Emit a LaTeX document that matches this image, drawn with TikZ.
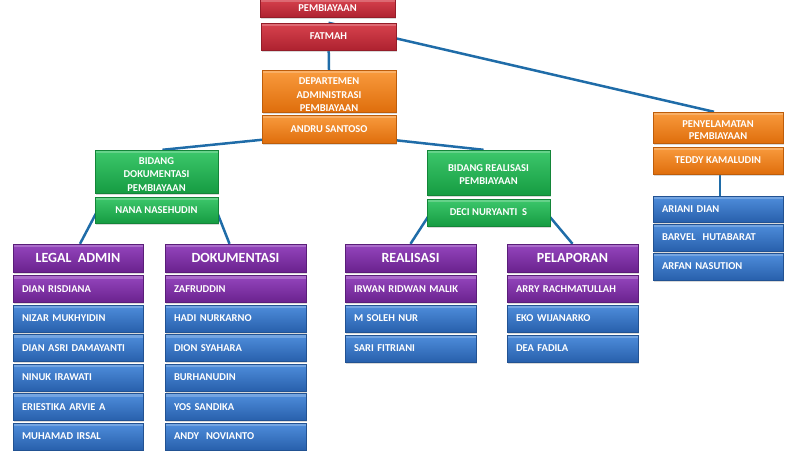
\documentclass[tikz,border=0pt]{standalone}
\usepackage{fontspec}
\setmainfont{Carlito}
\usetikzlibrary{calc,shadows,backgrounds}
\definecolor{redA}{HTML}{D8434E}\definecolor{redB}{HTML}{AE2230}
\definecolor{orA}{HTML}{F99B3E}\definecolor{orB}{HTML}{DF6E0C}
\definecolor{grA}{HTML}{3DC86C}\definecolor{grB}{HTML}{169C42}
\definecolor{puA}{HTML}{9546BE}\definecolor{puB}{HTML}{6A228E}
\definecolor{blA}{HTML}{4F8EDC}\definecolor{blB}{HTML}{2860AC}
\definecolor{link}{HTML}{1F6CA8}
\tikzset{
  box/.style={rectangle, inner sep=0pt, text=white,
    font=\bfseries\fontsize{10.5}{13.5}\selectfont, align=center,
    drop shadow={shadow xshift=1pt, shadow yshift=-1.5pt, opacity=0.3},
    path picture={\fill[white,opacity=0.22] (path picture bounding box.north west) rectangle ([yshift=-3pt]path picture bounding box.north east);}},
  redbox/.style={box, top color=redA, bottom color=redB, draw=redB!85!black},
  orbox/.style={box, top color=orA, bottom color=orB, draw=orB!85!black},
  grbox/.style={box, top color=grA, bottom color=grB, draw=grB!85!black},
  pubox/.style={box, top color=puA, bottom color=puB, draw=puB!85!black},
  blbox/.style={box, top color=blA, bottom color=blB, draw=blB!85!black},
  head/.style={font=\bfseries\fontsize{14}{16}\selectfont, minimum height=28pt},
  namebox/.style={text width=#1, inner xsep=9pt, align=left, minimum height=27pt},
  lowtext/.style={text height=#1, text depth=0pt},
  link/.style={draw=link, line width=2.5pt}
}
\begin{document}
\begin{tikzpicture}[x=1pt,y=-1pt]
\useasboundingbox (0,0) rectangle (800,450);
\clip (0,0) rectangle (800,450);
% top chain
\node[redbox, minimum width=135pt, minimum height=19pt] (top) at (327.5,8) {PEMBIAYAAN};
\node[redbox, minimum width=135pt, minimum height=27pt] (fatmah) at (328.5,36.5) {FATMAH};
\node[orbox, lowtext=41.8pt, minimum width=134pt, minimum height=42pt] (dept) at (329,91) {DEPARTEMEN\\ADMINISTRASI\\PEMBIAYAAN};
\node[orbox, minimum width=134pt, minimum height=28pt] (andru) at (329,129) {ANDRU SANTOSO};
% bidang dokumentasi
\node[grbox, lowtext=39.8pt, minimum width=123pt, minimum height=43pt] (bdok) at (156.5,171.5) {BIDANG\\DOKUMENTASI\\PEMBIAYAAN};
\node[grbox, minimum width=123pt, minimum height=26pt] (nana) at (156.5,210) {NANA NASEHUDIN};
% bidang realisasi
\node[grbox, lowtext=24.3pt, minimum width=123pt, minimum height=45pt] (breal) at (488.5,172.5) {BIDANG REALISASI\\PEMBIAYAAN};
\node[grbox, minimum width=123pt, minimum height=27pt] (deci) at (488.5,212.5) {DECI NURYANTI\ \ S};
% penyelamatan
\node[orbox, lowtext=23.8pt, minimum width=130pt, minimum height=31pt, font=\bfseries\fontsize{10.5}{12}\selectfont] (pen) at (718,127.5) {PENYELAMATAN\\PEMBIAYAAN};
\node[orbox, minimum width=130pt, minimum height=27pt] (teddy) at (718,160.5) {TEDDY KAMALUDIN};
\node[blbox, namebox=112pt, minimum height=26pt] (ariani) at (718,209) {ARIANI DIAN};
\node[blbox, namebox=112pt] (barvel) at (718,237.5) {BARVEL\ \ HUTABARAT};
\node[blbox, namebox=112pt] (arfan) at (718,266.5) {ARFAN NASUTION};
% legal admin column
\node[pubox, head, minimum width=130pt] (legal) at (78,258) {LEGAL\ \ ADMIN};
\node[pubox, namebox=112pt] (l1) at (78,289) {DIAN RISDIANA};
\node[blbox, namebox=112pt] (l2) at (78,318.5) {NIZAR MUKHYIDIN};
\node[blbox, namebox=112pt] (l3) at (78,348) {DIAN ASRI DAMAYANTI};
\node[blbox, namebox=112pt] (l4) at (78,377.5) {NINUK IRAWATI};
\node[blbox, namebox=112pt] (l5) at (78,407) {ERIESTIKA ARVIE A};
\node[blbox, namebox=112pt] (l6) at (78,436.5) {MUHAMAD IRSAL};
% dokumentasi column
\node[pubox, head, minimum width=141pt] (dok) at (235.5,258) {DOKUMENTASI};
\node[pubox, namebox=123pt] (d1) at (235.5,289) {ZAFRUDDIN};
\node[blbox, namebox=123pt] (d2) at (235.5,318.5) {HADI NURKARNO};
\node[blbox, namebox=123pt] (d3) at (235.5,348) {DION SYAHARA};
\node[blbox, namebox=123pt] (d4) at (235.5,377.5) {BURHANUDIN};
\node[blbox, namebox=123pt] (d5) at (235.5,407) {YOS SANDIKA};
\node[blbox, namebox=123pt] (d6) at (235.5,436.5) {ANDY\ \ NOVIANTO};
% realisasi column
\node[pubox, head, minimum width=131pt] (real) at (410.5,258) {REALISASI};
\node[pubox, namebox=113pt] (r1) at (410.5,289) {IRWAN RIDWAN MALIK};
\node[blbox, namebox=113pt] (r2) at (410.5,318.5) {M SOLEH NUR};
\node[blbox, namebox=113pt] (r3) at (410.5,348.5) {SARI FITRIANI};
% pelaporan column
\node[pubox, head, minimum width=131pt] (pel) at (572.5,258) {PELAPORAN};
\node[pubox, namebox=113pt] (p1) at (572.5,289) {ARRY RACHMATULLAH};
\node[blbox, namebox=113pt] (p2) at (572.5,318.5) {EKO WIJANARKO};
\node[blbox, namebox=113pt] (p3) at (572.5,348.5) {DEA FADILA};
% connectors
\begin{pgfonlayer}{background}
\draw[link] (fatmah.center) -- (dept.north);
\draw[link] (fatmah.north) -- ($(pen.north)+(-4,0)$);
\draw[link] ($(andru.center)+(0,4)$) -- ($(bdok.north)+(6,0)$);
\draw[link] ($(andru.center)+(0,4)$) -- ($(breal.north)+(-5,0)$);
\draw[link] ($(nana.west)+(3,0)$) -- ($(legal.north)+(2,0)$);
\draw[link] ($(nana.east)+(-2,0)$) -- ($(dok.north)+(-6,0)$);
\draw[link] ($(deci.west)+(4,0)$) -- (real.north);
\draw[link] ($(deci.east)+(-4,0)$) -- (pel.north);
\draw[link] ($(teddy.center)+(2,0)$) -- ($(ariani.north)+(2,0)$);
\end{pgfonlayer}
\end{tikzpicture}
\end{document}
